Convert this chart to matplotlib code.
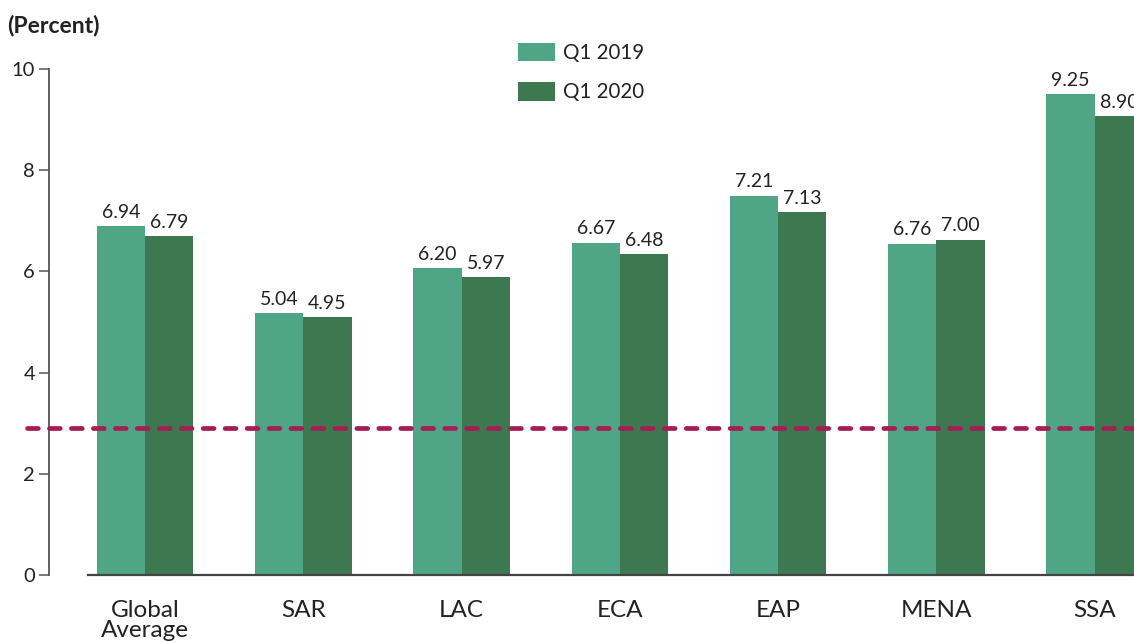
import matplotlib.pyplot as plt
import numpy as np

plt.rcParams['font.family'] = ['Lato', 'DejaVu Sans']

regions = ['Global\nAverage', 'SAR', 'LAC', 'ECA', 'EAP', 'MENA', 'SSA']
# bar heights as drawn
q1_2019 = [6.89, 5.17, 6.06, 6.57, 7.49, 6.55, 9.50]
q1_2020 = [6.69, 5.09, 5.88, 6.34, 7.17, 6.63, 9.07]
# printed value labels
labels_2019 = ['6.94', '5.04', '6.20', '6.67', '7.21', '6.76', '9.25']
labels_2020 = ['6.79', '4.95', '5.97', '6.48', '7.13', '7.00', '8.90']
ref_line = 2.91
yticks = [0, 2, 4, 6, 8, 10]

light = '#50a587'
dark = '#3e7850'
txt = '#222222'
axis_col = '#555555'

fig = plt.figure(figsize=(11.34, 6.43), dpi=100)
ax = fig.add_axes([49 / 1134, 68 / 643, 1085 / 1134, 506 / 643])

x = np.arange(len(regions))
w = 0.305
b1 = ax.bar(x - w / 2, q1_2019, w, color=light, label='Q1 2019', zorder=2)
b2 = ax.bar(x + w / 2, q1_2020, w, color=dark, label='Q1 2020', zorder=2)

for bars, labs in [(b1, labels_2019), (b2, labels_2020)]:
    for r, lab in zip(bars, labs):
        ax.annotate(lab, (r.get_x() + r.get_width() / 2, r.get_height()),
                    xytext=(0, 4), textcoords='offset points', ha='center', va='bottom',
                    fontsize=14, color=txt, annotation_clip=False)

# reference line, runs past the y axis on the left
ax.plot([-0.745, 7], [ref_line, ref_line], color='#a51d54', lw=3.4,
        dashes=(2.3, 2.35), dash_capstyle='round', clip_on=False, zorder=3)

ax.set_xlim(-0.606, 6.248)
ax.set_ylim(0, 10)
ax.set_yticks(yticks)
ax.set_xticks(x, regions)

for s in ['top', 'right']:
    ax.spines[s].set_visible(False)
ax.spines['left'].set_color(axis_col)
ax.spines['left'].set_linewidth(1.3)
ax.spines['bottom'].set_color('#444444')
ax.spines['bottom'].set_linewidth(1.6)
ax.spines['bottom'].set_bounds(-0.36, 6.248)
ax.spines['bottom'].set_zorder(4)

ax.tick_params(axis='y', length=7, width=1.1, color=axis_col, pad=3,
               labelsize=14.5, labelcolor=txt)
ax.tick_params(axis='x', length=0, pad=18, labelsize=17.5, labelcolor=txt)
for t in ax.get_xticklabels():
    t.set_linespacing(0.95)

fig.text(7 / 1134, 1 - 25 / 643, '(Percent)', fontsize=16.5, fontweight='bold',
         color=txt, va='center', ha='left')

ax.legend(loc='upper left', bbox_to_anchor=(518 / 1134, 1 - 43 / 643),
          bbox_transform=fig.transFigure, frameon=False, fontsize=14.8,
          borderpad=0, borderaxespad=0, handlelength=1.8, handleheight=1.0,
          handletextpad=0.4, labelspacing=0.92, labelcolor=txt)

fig.savefig('out.png', dpi=100)
